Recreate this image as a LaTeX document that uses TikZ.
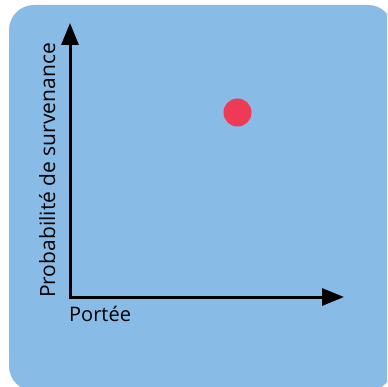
\documentclass[tikz,border=0pt]{standalone}
\usepackage{fontspec}
\setmainfont{Open Sans}
\usetikzlibrary{arrows.meta}
\definecolor{bgblue}{HTML}{88BBE6}
\definecolor{dotred}{HTML}{EE3A55}
\tikzset{
  axis/.style={line width=3pt, line join=miter, {Triangle[length=22pt,width=17pt]}-{Triangle[length=22pt,width=17pt]}},
  lbl/.style={font=\fontsize{20}{22}\selectfont, inner sep=0pt, text=black}
}
\begin{document}
\begin{tikzpicture}[x=1pt,y=-1pt]
\useasboundingbox (0,0) rectangle (387,387);
\clip (0,0) rectangle (387,387);
\fill[bgblue, rounded corners=25pt] (9,5) rectangle (393,391);
\node[circle, fill=dotred, minimum size=28pt, inner sep=0pt] (dot) at (237.5,112.5) {};
\coordinate (ytip) at (70,23);
\coordinate (o) at (70,297);
\coordinate (xtip) at (344,297);
\draw[axis] (ytip) -- (o) -- (xtip);
\node[lbl, anchor=base west] (xl) at (69,321) {Portée};
\node[lbl, font=\fontsize{21}{23}\selectfont, rotate=90, anchor=base west] (yl) at (55,298) {Probabilité de survenance};
\end{tikzpicture}
\end{document}
